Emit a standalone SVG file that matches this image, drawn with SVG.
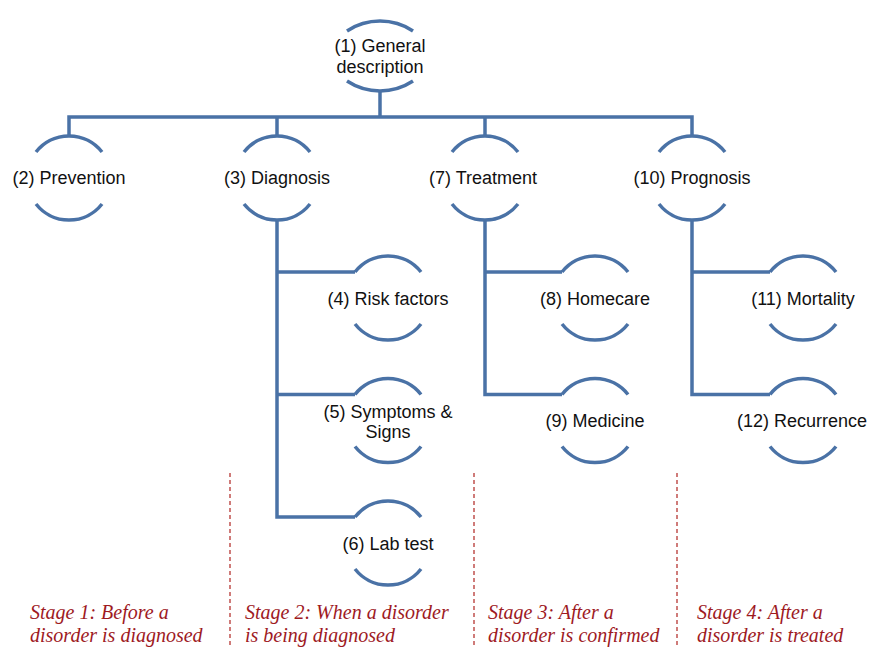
<svg xmlns="http://www.w3.org/2000/svg" width="869" height="648" viewBox="0 0 869 648">
<style>
.arc{fill:none;stroke:#4A72A6;stroke-width:3.5;stroke-linecap:butt}
.con{fill:none;stroke:#4A72A6;stroke-width:3.5;stroke-linejoin:miter}
.lbl{font-family:"Liberation Sans",Arial,sans-serif;font-size:18px;fill:#111;text-anchor:middle}
.stage{font-family:"Liberation Serif","Times New Roman",serif;font-style:italic;font-size:20px;fill:#9E1A1F}
.div{stroke:#C0504D;stroke-width:1.5;stroke-dasharray:4 3;fill:none}
</style>
<rect width="869" height="648" fill="#fff"/>
<g id="connectors">
<path class="con" d="M380,91 V117"/>
<path class="con" d="M69,136 V117 H692 V136"/>
<path class="con" d="M277,117 V136"/>
<path class="con" d="M485,117 V136"/>
<path class="con" d="M277,220 V517 H355"/>
<path class="con" d="M277,272 H355"/>
<path class="con" d="M277,394.5 H355"/>
<path class="con" d="M485,220 V394.5 H562"/>
<path class="con" d="M485,272 H562"/>
<path class="con" d="M692,220 V394.5 H770"/>
<path class="con" d="M692,272 H770"/>
</g>
<g id="node1">
<path class="arc" d="M347,31 A60,60 0 0 1 413,31"/>
<path class="arc" d="M347,81 A60,60 0 0 0 413,81"/>
<text class="lbl" x="380" y="52">(1) General</text>
<text class="lbl" x="380" y="73">description</text>
</g>
<g id="node2">
<path class="arc" d="M36,152 A42,42 0 0 1 102,152"/>
<path class="arc" d="M36,204 A42,42 0 0 0 102,204"/>
<text class="lbl" x="69" y="184">(2) Prevention</text>
</g>
<g id="node3">
<path class="arc" d="M244,152 A42,42 0 0 1 310,152"/>
<path class="arc" d="M244,204 A42,42 0 0 0 310,204"/>
<text class="lbl" x="277" y="184">(3) Diagnosis</text>
</g>
<g id="node7">
<path class="arc" d="M452,152 A42,42 0 0 1 518,152"/>
<path class="arc" d="M452,204 A42,42 0 0 0 518,204"/>
<text class="lbl" x="483" y="184">(7) Treatment</text>
</g>
<g id="node10">
<path class="arc" d="M659,152 A42,42 0 0 1 725,152"/>
<path class="arc" d="M659,204 A42,42 0 0 0 725,204"/>
<text class="lbl" x="692" y="184">(10) Prognosis</text>
</g>
<g id="node4">
<path class="arc" d="M355,272 A42,42 0 0 1 421,272"/>
<path class="arc" d="M355,324 A42,42 0 0 0 421,324"/>
<text class="lbl" x="388" y="305">(4) Risk factors</text>
</g>
<g id="node5">
<path class="arc" d="M355,394.5 A42,42 0 0 1 421,394.5"/>
<path class="arc" d="M355,446.5 A42,42 0 0 0 421,446.5"/>
<text class="lbl" x="388" y="418">(5) Symptoms &amp;</text>
<text class="lbl" x="388" y="438">Signs</text>
</g>
<g id="node6">
<path class="arc" d="M355,517 A42,42 0 0 1 421,517"/>
<path class="arc" d="M355,569 A42,42 0 0 0 421,569"/>
<text class="lbl" x="388" y="550">(6) Lab test</text>
</g>
<g id="node8">
<path class="arc" d="M562,272 A42,42 0 0 1 628,272"/>
<path class="arc" d="M562,324 A42,42 0 0 0 628,324"/>
<text class="lbl" x="595" y="305">(8) Homecare</text>
</g>
<g id="node9">
<path class="arc" d="M562,394.5 A42,42 0 0 1 628,394.5"/>
<path class="arc" d="M562,446.5 A42,42 0 0 0 628,446.5"/>
<text class="lbl" x="595" y="427">(9) Medicine</text>
</g>
<g id="node11">
<path class="arc" d="M770,272 A42,42 0 0 1 836,272"/>
<path class="arc" d="M770,324 A42,42 0 0 0 836,324"/>
<text class="lbl" x="803" y="305">(11) Mortality</text>
</g>
<g id="node12">
<path class="arc" d="M770,394.5 A42,42 0 0 1 836,394.5"/>
<path class="arc" d="M770,446.5 A42,42 0 0 0 836,446.5"/>
<text class="lbl" x="802" y="427">(12) Recurrence</text>
</g>
<g id="stages">
<path class="div" d="M230,473 V647"/>
<path class="div" d="M474,473 V647"/>
<path class="div" d="M677,473 V647"/>
<text class="stage" x="30" y="619">Stage 1: Before a</text>
<text class="stage" x="30" y="642">disorder is diagnosed</text>
<text class="stage" x="245" y="619">Stage 2: When a disorder</text>
<text class="stage" x="245" y="642">is being diagnosed</text>
<text class="stage" x="488" y="619">Stage 3: After a</text>
<text class="stage" x="488" y="642">disorder is confirmed</text>
<text class="stage" x="697" y="619">Stage 4: After a</text>
<text class="stage" x="697" y="642">disorder is treated</text>
</g>
</svg>
